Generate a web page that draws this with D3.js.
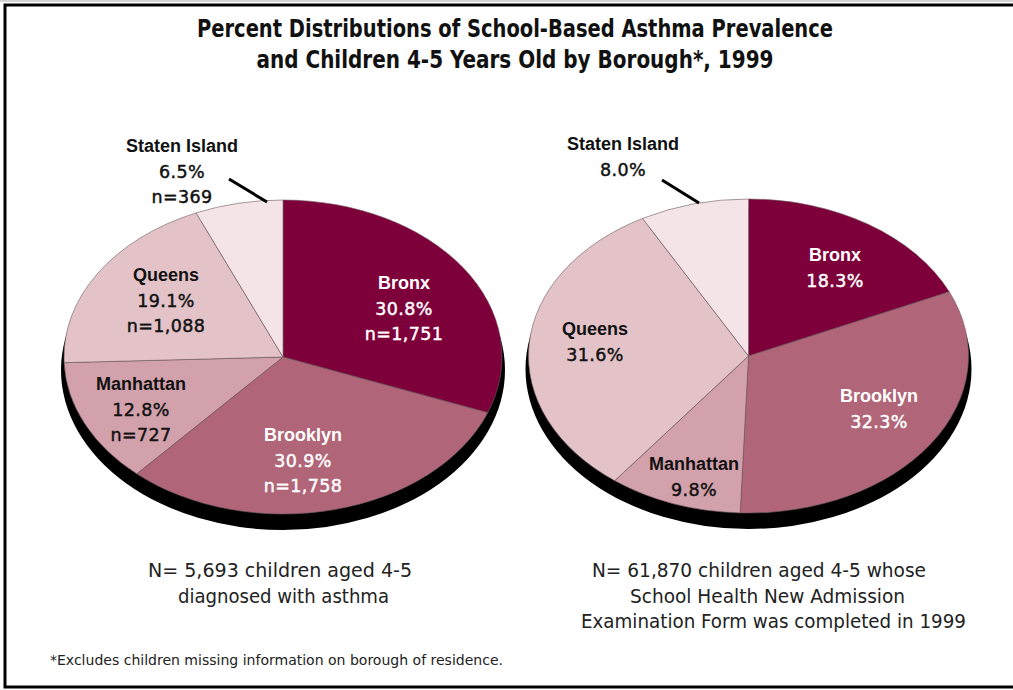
<!DOCTYPE html>
<html>
<head>
<meta charset="utf-8">
<script src="https://cdn.jsdelivr.net/npm/d3@7"></script>
<style>
  html, body { margin: 0; padding: 0; background: #fff; }
  svg { display: block; }
</style>
</head>
<body>
<svg id="chart" width="1013" height="690"></svg>
<script>
// Borough shares: asthma cases (left pie) and all children 4-5 examined (right pie)
const boroughs = ["Bronx", "Brooklyn", "Manhattan", "Queens", "Staten Island"];
const asthmaPct = [30.8, 30.9, 12.8, 19.1, 6.5];
const asthmaN = [1751, 1758, 727, 1088, 369];
const childrenPct = [18.3, 32.3, 9.8, 31.6, 8.0];

const titleLines = [
  "Percent Distributions of School-Based Asthma Prevalence",
  "and Children 4-5 Years Old by Borough*, 1999"
];
const leftNote = ["N= 5,693 children aged 4-5", "diagnosed with asthma"];
const rightNote = ["N= 61,870 children aged 4-5 whose", "School Health New Admission", "Examination Form was completed in 1999"];
const footnote = "*Excludes children missing information on borough of residence.";

const sliceColors = ["#7e003b", "#b06678", "#d3a1ab", "#e3c3c8", "#f4e4e8"];
const textColors = ["#ffffff", "#ffffff", "#111111", "#111111", "#111111"];

const svg = d3.select("#chart");
const condensed = "'Liberation Sans Narrow', 'DejaVu Sans Condensed', 'Liberation Sans', sans-serif";
const nameFont = "'Liberation Sans', Arial, sans-serif";
const valueFont = "'DejaVu Sans', 'Liberation Sans', sans-serif";

// frame
svg.append("rect").attr("x", 0).attr("y", 0).attr("width", 1013).attr("height", 690).attr("fill", "#fff");
svg.append("line").attr("x1", 0).attr("x2", 1013).attr("y1", 1).attr("y2", 1).attr("stroke", "#aaa").attr("stroke-width", 1);
svg.append("rect").attr("x", 5).attr("y", 5).attr("width", 1012).attr("height", 682)
  .attr("fill", "none").attr("stroke", "#000").attr("stroke-width", 3);

// title
const titleY = [37, 68];
const titleW = [636, 517];
titleLines.forEach((t, i) => {
  svg.append("text").attr("x", 515).attr("y", titleY[i]).attr("text-anchor", "middle")
    .attr("font-family", condensed).attr("font-weight", "bold").attr("font-size", 25)
    .attr("textLength", titleW[i]).attr("lengthAdjust", "spacingAndGlyphs")
    .attr("fill", "#111").text(t);
});

const pie = d3.pie().sort(null).value(d => d.pct);

function drawPie(cfg) {
  const { cx, cy, rx, ry, values, counts, labelOffsets, leader } = cfg;
  const data = values.map((v, i) => ({ name: boroughs[i], pct: v, n: counts ? counts[i] : null, i }));
  const g = svg.append("g").attr("transform", `translate(${cx},${cy})`);

  // depth / drop shadow under the disc
  g.append("ellipse").attr("cx", 0).attr("cy", 13).attr("rx", rx + 3).attr("ry", ry + 3).attr("fill", "#000");

  // elliptical disc: circular arcs squashed vertically
  const arc = d3.arc().innerRadius(0).outerRadius(rx);
  const disc = g.append("g").attr("transform", `scale(1,${ry / rx})`);
  disc.selectAll("path").data(pie(data)).join("path")
    .attr("d", arc)
    .attr("fill", d => sliceColors[d.data.i])
    .attr("stroke", "#6d5a5f").attr("stroke-width", 0.6)
    .attr("vector-effect", "non-scaling-stroke");

  // labels: bold borough name, then value lines in a slightly heavier regular face
  data.forEach((d, i) => {
    const [dx, dy] = labelOffsets[i];
    const lines = [{ t: d.name, name: true }, { t: d3.format(".1f")(d.pct) + "%", name: false }];
    if (d.n !== null) lines.push({ t: "n=" + d3.format(",")(d.n), name: false });
    const txt = g.append("text").attr("text-anchor", "middle").attr("fill", textColors[i]);
    lines.forEach((ln, k) => {
      const ts = txt.append("tspan").attr("x", dx).attr("y", dy + k * 25.5)
        .attr("font-family", ln.name ? nameFont : valueFont)
        .attr("font-weight", ln.name ? "bold" : "normal")
        .attr("font-size", ln.name ? 18 : 17.5)
        .attr("letter-spacing", ln.name ? 0 : 0.4)
        .text(ln.t);
      if (!ln.name) ts.attr("stroke", textColors[i]).attr("stroke-width", 0.45);
    });
  });

  // leader line to the smallest slice
  g.append("line").attr("x1", leader[0]).attr("y1", leader[1]).attr("x2", leader[2]).attr("y2", leader[3])
    .attr("stroke", "#000").attr("stroke-width", 3);
}

drawPie({
  cx: 283, cy: 357, rx: 219, ry: 157,
  values: asthmaPct, counts: asthmaN,
  labelOffsets: [[121, -68], [20, 84], [-142, 33], [-117, -76], [-101, -205]],
  leader: [-54, -178, -16, -155]
});

drawPie({
  cx: 748.5, cy: 356, rx: 220, ry: 157,
  values: childrenPct, counts: null,
  labelOffsets: [[86.5, -95], [130.5, 46], [-54.5, 114], [-153.5, -21], [-125.5, -206]],
  leader: [-86.5, -176, -49.5, -153]
});

// sample size notes
function note(lines, xs, ys, ws) {
  lines.forEach((t, i) => {
    svg.append("text").attr("x", xs[i]).attr("y", ys[i])
      .attr("font-family", condensed).attr("font-size", 19)
      .attr("textLength", ws[i]).attr("lengthAdjust", "spacingAndGlyphs")
      .attr("fill", "#222").text(t);
  });
}
note(leftNote, [148, 178], [577, 603], [264, 211]);
note(rightNote, [592, 630, 581], [577, 603, 628], [334, 275, 385]);

svg.append("text").attr("x", 50).attr("y", 665)
  .attr("font-family", condensed).attr("font-size", 14)
  .attr("textLength", 453).attr("lengthAdjust", "spacingAndGlyphs")
  .attr("fill", "#222").text(footnote);
</script>
</body>
</html>
